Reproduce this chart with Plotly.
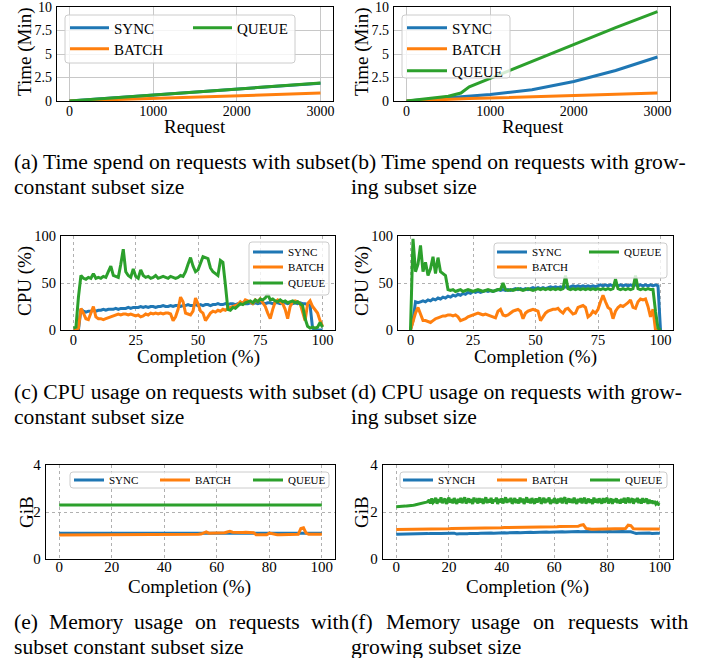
import plotly.graph_objects as go

W, H = 711, 658
BLUE, ORANGE, GREEN = "#1f77b4", "#ff7f0e", "#2ca02c"
SERIF = "Liberation Serif"

# ---------------- data ----------------
req_x = [0, 250, 500, 650, 750, 1000, 1500, 2000, 2500, 3000]
sync_a = [0, 0.16, 0.32, 0.41, 0.48, 0.63, 0.95, 1.27, 1.59, 1.90]
batch_a = [0, 0.07, 0.14, 0.18, 0.21, 0.28, 0.42, 0.56, 0.70, 0.84]
queue_a = [0, 0.16, 0.32, 0.42, 0.48, 0.64, 0.96, 1.28, 1.60, 1.91]

sync_b = [0, 0.15, 0.33, 0.42, 0.50, 0.68, 1.20, 2.08, 3.25, 4.68]
batch_b = [0, 0.10, 0.20, 0.24, 0.26, 0.32, 0.45, 0.58, 0.72, 0.86]
queue_b = [0, 0.22, 0.50, 0.85, 1.50, 2.40, 4.20, 6.00, 7.80, 9.50]

pct_x = list(range(101))
half_x = [i / 2 for i in range(201)]

sync_c = [0, 0, 0, 22, 20, 19, 20, 20, 21, 20,
          21, 21, 22, 21, 22, 22, 22, 23, 22, 23,
          23, 23, 24, 23, 24, 24, 24, 25, 24, 25,
          24, 25, 25, 24, 25, 25, 26, 25, 25, 26,
          25, 26, 26, 25, 26, 26, 27, 26, 26, 27,
          26, 27, 26, 27, 27, 26, 27, 27, 28, 27,
          27, 28, 27, 28, 28, 27, 28, 28, 29, 28,
          28, 29, 28, 29, 28, 29, 29, 28, 29, 29,
          28, 29, 29, 28, 29, 29, 28, 29, 28, 29,
          28, 29, 28, 28, 27, 26, 2, 0, 0, 0,
          0]
batch_c = [0, 0, 2, 23, 18, 12, 11, 18, 25, 14,
           12, 12, 11, 12, 13, 14, 15, 16, 17, 16,
           17, 17, 16, 17, 16, 15, 16, 14, 15, 17,
           16, 18, 17, 18, 17, 18, 17, 18, 18, 17,
           10, 14, 22, 35, 30, 18, 17, 16, 20, 34,
           28, 20, 18, 10, 14, 18, 20, 19, 21, 20,
           22, 21, 23, 24, 25, 26, 27, 30, 28, 32,
           31, 30, 28, 32, 30, 33, 29, 25, 18, 12,
           22, 30, 32, 30, 28, 22, 12, 25, 30, 31,
           30, 28, 20, 10, 28, 31, 25, 22, 18, 10,
           4]
queue_c = [2, 3, 35, 58, 55, 54, 56, 55, 60, 55,
           56, 55, 57, 56, 62, 68, 58, 57, 56, 70,
           86, 62, 58, 56, 65, 57, 55, 64, 58, 56,
           57, 55, 56, 58, 55, 56, 57, 56, 55, 57,
           56, 55, 56, 58, 57, 62, 70, 77, 68, 62,
           64, 72, 78, 77, 76, 66, 62, 60, 58, 74,
           72, 48, 22, 21, 24, 23, 26, 28, 27, 29,
           30, 31, 29, 32, 30, 33, 32, 34, 38, 32,
           33, 31, 30, 32, 30, 31, 29, 30, 31, 29,
           30, 28, 26, 12, 4, 2, 3, 2, 3, 8,
           3]

sync_d = [0, 10, 30, 29, 30, 31, 30, 32, 31, 33,
          32, 34, 33, 35, 34, 36, 35, 37, 36, 38,
          37, 39, 38, 40, 39, 41, 40, 41, 40, 41,
          42, 41, 42, 41, 42, 43, 42, 43, 42, 43,
          42, 43, 44, 43, 44, 43, 44, 43, 44, 45,
          44, 45, 44, 45, 44, 45, 46, 45, 46, 45,
          46, 45, 46, 45, 46, 47, 46, 47, 46, 47,
          46, 47, 46, 47, 46, 47, 48, 47, 48, 47,
          48, 47, 48, 47, 48, 47, 48, 47, 48, 47,
          48, 47, 48, 47, 48, 47, 48, 47, 48, 47,
          0]
batch_d = [0, 10, 18, 24, 16, 10, 10, 9, 8, 10,
           12, 13, 14, 15, 15, 16, 16, 15, 16, 14,
           10, 11, 12, 14, 15, 16, 17, 18, 17, 16,
           17, 16, 15, 14, 13, 20, 22, 16, 15, 16,
           18, 20, 21, 22, 20, 12, 18, 20, 21, 22,
           21, 20, 10, 14, 18, 20, 21, 22, 22, 23,
           20, 18, 22, 23, 20, 17, 18, 24, 25, 26,
           24, 14, 16, 20, 18, 22, 30, 37, 30, 24,
           22, 12, 20, 24, 26, 25, 27, 29, 32, 24,
           23, 30, 33, 32, 33, 25, 14, 22, 0, 0,
           0]
queue_d = [0, 97, 62, 70, 90, 62, 72, 58, 65, 78,
           60, 77, 62, 60, 58, 43, 42, 43, 41, 42,
           43, 41, 42, 43, 42, 41, 42, 43, 42, 41,
           42, 43, 42, 41, 42, 43, 43, 50, 43, 42,
           43, 42, 43, 44, 43, 42, 43, 44, 43, 42,
           43, 44, 43, 44, 43, 44, 43, 44, 43, 44,
           43, 44, 58, 44, 43, 44, 43, 44, 43, 44,
           43, 44, 43, 44, 43, 44, 43, 44, 43, 44,
           43, 44, 54, 44, 43, 44, 43, 44, 43, 44,
           58, 44, 43, 44, 43, 44, 43, 43, 20, 2,
           0]

mem_x = [0, 100]
sync_e = [1.10, 1.10]
queue_e = [2.30, 2.30]
batch_e = [1.02, 1.02, 1.02, 1.02, 1.02, 1.02, 1.02, 1.02, 1.02, 1.02,
           1.02, 1.02, 1.02, 1.02, 1.02, 1.03, 1.03, 1.03, 1.03, 1.03,
           1.03, 1.03, 1.03, 1.03, 1.03, 1.03, 1.03, 1.03, 1.03, 1.03,
           1.04, 1.04, 1.04, 1.04, 1.04, 1.04, 1.04, 1.04, 1.04, 1.04,
           1.04, 1.04, 1.04, 1.04, 1.04, 1.05, 1.05, 1.05, 1.05, 1.05,
           1.05, 1.05, 1.05, 1.05, 1.06, 1.10, 1.15, 1.10, 1.10, 1.10,
           1.10, 1.11, 1.11, 1.12, 1.15, 1.18, 1.14, 1.13, 1.13, 1.13,
           1.13, 1.14, 1.14, 1.15, 1.12, 1.03, 1.03, 1.03, 1.03, 1.03,
           1.10, 1.08, 1.03, 1.03, 1.03, 1.03, 1.03, 1.03, 1.03, 1.03,
           1.03, 1.05, 1.30, 1.33, 1.10, 1.05, 1.05, 1.05, 1.05, 1.05,
           1.05]

sync_f = [1.05, 1.05, 1.06, 1.06, 1.06, 1.07, 1.07, 1.07, 1.08, 1.07,
          1.08, 1.08, 1.08, 1.09, 1.08, 1.09, 1.09, 1.09, 1.10, 1.09,
          1.10, 1.10, 1.10, 1.06, 1.07, 1.06, 1.08, 1.07, 1.09, 1.08,
          1.10, 1.09, 1.10, 1.11, 1.10, 1.11, 1.11, 1.10, 1.11, 1.12,
          1.11, 1.12, 1.11, 1.12, 1.13, 1.12, 1.13, 1.12, 1.13, 1.14,
          1.13, 1.14, 1.13, 1.14, 1.14, 1.15, 1.14, 1.15, 1.14, 1.15,
          1.15, 1.16, 1.15, 1.16, 1.15, 1.16, 1.16, 1.17, 1.16, 1.17,
          1.16, 1.17, 1.16, 1.17, 1.16, 1.17, 1.16, 1.17, 1.16, 1.17,
          1.16, 1.17, 1.16, 1.17, 1.16, 1.18, 1.17, 1.16, 1.17, 1.16,
          1.12, 1.09, 1.10, 1.11, 1.09, 1.10, 1.11, 1.09, 1.11, 1.10,
          1.09]
batch_f = [1.26, 1.26, 1.26, 1.26, 1.26, 1.27, 1.27, 1.27, 1.27, 1.27,
           1.28, 1.28, 1.28, 1.28, 1.28, 1.29, 1.29, 1.29, 1.29, 1.29,
           1.29, 1.30, 1.30, 1.30, 1.30, 1.30, 1.31, 1.31, 1.31, 1.31,
           1.31, 1.32, 1.32, 1.32, 1.32, 1.32, 1.33, 1.33, 1.33, 1.33,
           1.33, 1.34, 1.34, 1.34, 1.34, 1.34, 1.35, 1.35, 1.35, 1.35,
           1.35, 1.35, 1.36, 1.36, 1.36, 1.36, 1.36, 1.37, 1.37, 1.37,
           1.37, 1.37, 1.38, 1.38, 1.38, 1.38, 1.38, 1.39, 1.39, 1.39,
           1.44, 1.46, 1.30, 1.27, 1.27, 1.27, 1.27, 1.27, 1.27, 1.27,
           1.27, 1.27, 1.27, 1.27, 1.27, 1.27, 1.27, 1.30, 1.44, 1.42,
           1.29, 1.28, 1.28, 1.28, 1.28, 1.28, 1.28, 1.28, 1.28, 1.28,
           1.28]
# sampled every 0.5 % of completion (201 values)
queue_f = [2.22, 2.22, 2.23, 2.23, 2.24, 2.24, 2.25, 2.25, 2.26, 2.26,
           2.27, 2.28, 2.28, 2.29, 2.30, 2.31, 2.32, 2.33, 2.34, 2.36,
           2.37, 2.39, 2.40, 2.42, 2.44,
           2.52, 2.36, 2.58, 2.40, 2.46, 2.60, 2.35, 2.55, 2.42, 2.62,
           2.38, 2.50, 2.57, 2.34, 2.48, 2.61, 2.40, 2.54, 2.37, 2.59,
           2.44, 2.35, 2.56, 2.41, 2.60, 2.38, 2.52, 2.62, 2.36, 2.47,
           2.58, 2.39, 2.55, 2.34, 2.61, 2.43, 2.50, 2.37, 2.59, 2.40,
           2.57, 2.35, 2.49, 2.62, 2.38, 2.54, 2.41, 2.60, 2.36, 2.52,
           2.45, 2.61, 2.34, 2.56, 2.40, 2.58, 2.37, 2.51, 2.62, 2.39,
           2.55, 2.43, 2.60, 2.35, 2.48, 2.59, 2.38, 2.53, 2.36, 2.61,
           2.42, 2.57, 2.34, 2.50, 2.62, 2.40, 2.55, 2.37, 2.59, 2.44,
           2.36, 2.58, 2.41, 2.53, 2.61, 2.35, 2.49, 2.60, 2.38, 2.56,
           2.43, 2.62, 2.34, 2.52, 2.39, 2.59, 2.46, 2.36, 2.57, 2.41,
           2.60, 2.37, 2.54, 2.62, 2.35, 2.50, 2.58, 2.40, 2.55, 2.38,
           2.61, 2.44, 2.35, 2.56, 2.42, 2.59, 2.37, 2.52, 2.60, 2.36,
           2.48, 2.57, 2.39, 2.54, 2.34, 2.61, 2.41, 2.55, 2.38, 2.58,
           2.45, 2.36, 2.59, 2.40, 2.53, 2.60, 2.37, 2.50, 2.57, 2.35,
           2.55, 2.42, 2.58, 2.38, 2.52, 2.36, 2.56, 2.40, 2.60, 2.37,
           2.53, 2.61, 2.39, 2.47, 2.58, 2.35, 2.56, 2.43, 2.60, 2.38,
           2.54, 2.36, 2.59, 2.41, 2.51, 2.57, 2.35, 2.52, 2.38, 2.48,
           2.36, 2.46, 2.34, 2.40, 2.32,
           2.30]

# ---------------- layout helpers ----------------
def px_x(p):
    return p / W


def px_y(p):
    return 1 - p / H


# panel: (left, right, top, bottom) in pixels
panels = {
    "a": (57, 333, 7, 101),
    "b": (394, 670, 7, 101),
    "c": (61, 335, 236, 330),
    "d": (398, 673, 236, 330),
    "e": (46, 335, 465, 559),
    "f": (383, 673, 465, 559),
}

fig = go.Figure()
layout = dict(
    width=W, height=H,
    margin=dict(l=0, r=0, t=0, b=0, pad=0, autoexpand=False),
    paper_bgcolor="white", plot_bgcolor="white", showlegend=True,
    font=dict(family=SERIF, color="black"),
)

axis_ids = {k: i + 1 for i, k in enumerate("abcdef")}
tick_font = {"a": 14, "b": 14, "c": 14.5, "d": 14.5, "e": 15, "f": 15}
x_standoff = {"a": -3, "b": -3, "c": -4, "d": -4, "e": -6, "f": -6}

for k, (l, r, t, b) in panels.items():
    n = axis_ids[k]
    xa = "xaxis" if n == 1 else f"xaxis{n}"
    ya = "yaxis" if n == 1 else f"yaxis{n}"
    xname = "x" if n == 1 else f"x{n}"
    yname = "y" if n == 1 else f"y{n}"
    dotted = k not in ("a", "b")
    common = dict(
        showline=True, mirror=True, linecolor="black", linewidth=1.3,
        showgrid=True, gridcolor="#b0b0b0" if dotted else "#c8c8c8",
        gridwidth=0.8 if dotted else 1, griddash="dot" if dotted else "solid",
        zeroline=False, ticks="", automargin=False, ticklabeloverflow="allow",
        tickfont=dict(family=SERIF, size=tick_font[k], color="black"),
    )
    if k in ("a", "b"):
        xr, xt = [-150, 3150], [0, 1000, 2000, 3000]
        yr, yt = [0, 10], [0, 2.5, 5, 7.5, 10]
        ytt = ["0", "2.5", "5", "7.5", "10"]
    elif k in ("c", "d"):
        xr, xt = [-5, 105], [0, 25, 50, 75, 100]
        yr, yt = [0, 100], [0, 50, 100]
        ytt = ["0", "50", "100"]
    else:
        xr, xt = [-5, 105], [0, 20, 40, 60, 80, 100]
        yr, yt = [0, 4], [0, 2, 4]
        ytt = ["0", "2", "4"]
    layout[xa] = dict(domain=[px_x(l), px_x(r)], range=xr, tickvals=xt,
                      anchor=yname, ticklabelstandoff=x_standoff[k], **common)
    layout[ya] = dict(domain=[px_y(b), px_y(t)], range=yr, tickvals=yt,
                      ticktext=ytt, anchor=xname, ticklabelstandoff=1, **common)

# traces: (panel, x, y, name, color, legend line start px, legend y px)
series = [
    ("a", req_x, sync_a, "SYNC", BLUE, 70, 28),
    ("a", req_x, batch_a, "BATCH", ORANGE, 70, 49),
    ("a", req_x, queue_a, "QUEUE", GREEN, 193, 28),
    ("b", req_x, sync_b, "SYNC", BLUE, 407, 28),
    ("b", req_x, batch_b, "BATCH", ORANGE, 407, 49),
    ("b", req_x, queue_b, "QUEUE", GREEN, 407, 71),
    ("c", pct_x, sync_c, "SYNC", BLUE, 253, 252),
    ("c", pct_x, batch_c, "BATCH", ORANGE, 253, 267),
    ("c", pct_x, queue_c, "QUEUE", GREEN, 253, 283),
    ("d", pct_x, sync_d, "SYNC", BLUE, 497, 252),
    ("d", pct_x, batch_d, "BATCH", ORANGE, 497, 267),
    ("d", pct_x, queue_d, "QUEUE", GREEN, 589, 252),
    ("e", mem_x, sync_e, "SYNC", BLUE, 74, 480),
    ("e", pct_x, batch_e, "BATCH", ORANGE, 160, 480),
    ("e", mem_x, queue_e, "QUEUE", GREEN, 253, 480),
    ("f", pct_x, sync_f, "SYNCH", BLUE, 403, 480),
    ("f", pct_x, batch_f, "BATCH", ORANGE, 497, 480),
    ("f", half_x, queue_f, "QUEUE", GREEN, 590, 480),
]

item_w = {"a": 39, "b": 40, "c": 30, "d": 30, "e": 30, "f": 30}
leg_font = {"a": 15, "b": 15, "c": 11, "d": 11, "e": 11, "f": 11}

for i, (k, xs, ys, name, color, lx, ly) in enumerate(series):
    n = axis_ids[k]
    lid = "legend" if i == 0 else f"legend{i + 1}"
    fig.add_trace(go.Scatter(
        x=xs, y=ys, name=name, mode="lines",
        line=dict(color=color, width=3),
        xaxis="x" if n == 1 else f"x{n}",
        yaxis="y" if n == 1 else f"y{n}",
        legend=lid, showlegend=True, hoverinfo="skip",
    ))
    layout[lid] = dict(
        x=px_x(lx - 5), y=px_y(ly), xanchor="left", yanchor="middle",
        bgcolor="rgba(0,0,0,0)", borderwidth=0, itemwidth=item_w[k],
        font=dict(family=SERIF, size=leg_font[k], color="black"),
        itemclick=False, itemdoubleclick=False,
    )


# legend frames (rounded, light grey edge, translucent white)
def rounded(x0, y0, x1, y1, r=3):
    def X(p):
        return px_x(p)

    def Y(p):
        return px_y(p)
    return (f"M{X(x0 + r)},{Y(y0)} L{X(x1 - r)},{Y(y0)} Q{X(x1)},{Y(y0)} {X(x1)},{Y(y0 + r)} "
            f"L{X(x1)},{Y(y1 - r)} Q{X(x1)},{Y(y1)} {X(x1 - r)},{Y(y1)} "
            f"L{X(x0 + r)},{Y(y1)} Q{X(x0)},{Y(y1)} {X(x0)},{Y(y1 - r)} "
            f"L{X(x0)},{Y(y0 + r)} Q{X(x0)},{Y(y0)} {X(x0 + r)},{Y(y0)} Z")


boxes = [(65, 15, 295, 63), (402, 15, 510, 78), (249, 242, 329, 295),
         (494, 243, 667, 278), (70, 472, 329, 488), (400, 472, 667, 488)]
layout["shapes"] = [
    dict(type="path", path=rounded(*bx), xref="paper", yref="paper",
         line=dict(color="#cccccc", width=1), fillcolor="rgba(255,255,255,0.8)",
         layer="above")
    for bx in boxes
]

ann = []


def text(s, x, y, size, xanchor="left", angle=0):
    ann.append(dict(text=s, x=px_x(x), y=px_y(y), xref="paper", yref="paper",
                    xanchor=xanchor, yanchor="middle", showarrow=False,
                    textangle=angle,
                    font=dict(family=SERIF, size=size, color="black")))


# axis titles
AT = 19
text("Time (Min)", 25, 52, AT, "center", -90)
text("Request", 195, 127, AT, "center")
text("Time (Min)", 362, 52, AT, "center", -90)
text("Request", 533, 127, AT, "center")
text("CPU (%)", 25, 281, AT, "center", -90)
text("Completion (%)", 198, 357, AT, "center")
text("CPU (%)", 362, 281, AT, "center", -90)
text("Completion (%)", 535, 357, AT, "center")
text("GiB", 26, 512, AT, "center", -90)
text("Completion (%)", 190, 587, AT, "center")
text("GiB", 361, 512, AT, "center", -90)
text("Completion (%)", 527, 587, AT, "center")

# captions
CF = 21.6
text("(a) Time spend on requests with subset", 12, 162, CF)
text("constant subset size", 12, 187, CF)
text("(b) Time spend on requests with grow-", 349, 162, CF)
text("ing subset size", 349, 187, CF)
text("(c) CPU usage on requests with subset", 12, 392, CF)
text("constant subset size", 12, 417, CF)
text("(d) CPU usage on requests with grow-", 349, 392, CF)
text("ing subset size", 349, 417, CF)
e_words = ["(e)", "Memory", "usage", "on", "requests", "with"]
e_pos = [12, 47, 132, 193, 227, 309]
for w_, p_ in zip(e_words, e_pos):
    text(w_, p_, 622, CF)
text("subset constant subset size", 12, 647, CF)
f_words = ["(f)", "Memory", "usage", "on", "requests", "with"]
f_pos = [349, 384, 469, 531, 566, 648]
for w_, p_ in zip(f_words, f_pos):
    text(w_, p_, 622, CF)
text("growing subset size", 349, 647, CF)

layout["annotations"] = ann
fig.update_layout(**layout)
fig.write_html("out.html", config={"displayModeBar": False},
               post_script="document.body.style.margin='0px';")
